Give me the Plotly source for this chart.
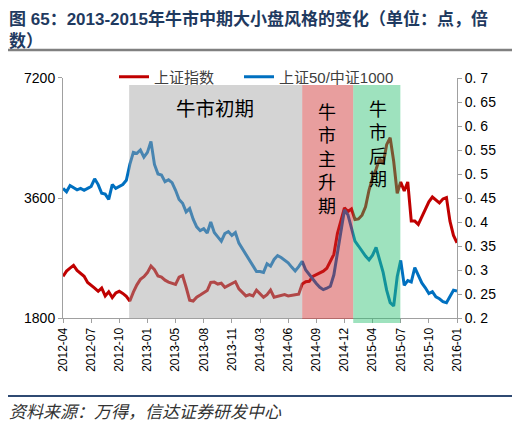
import plotly.graph_objects as go

# 上证指数（点），按交易日等距取样
sh_index = [
    2290, 2360, 2400, 2440, 2370, 2330, 2290, 2210, 2180, 2140,
    2100, 2140, 2045, 2095, 2025, 2080, 2100, 2075, 2040, 1985,
    2090, 2180, 2250, 2285, 2340, 2430, 2380, 2295, 2280, 2240,
    2215, 2200, 2185, 2280, 2300, 2150, 1995, 1985, 2030, 2055,
    2080, 2110, 2210, 2215, 2190, 2200, 2150, 2170, 2200, 2220,
    2130, 2085, 2045, 2060, 2045, 2115, 2070, 2030, 2060, 2115,
    2030, 2040, 2050, 2060, 2045, 2055, 2060, 2065, 2190, 2220,
    2225, 2290, 2315, 2340, 2360, 2400, 2490, 2600, 2930, 3170,
    3400, 3330, 3380, 3180, 3190, 3260, 3420, 3770, 4040, 4250,
    4520, 4380, 4900, 5100, 4450, 3700, 3950, 3750, 3950, 3150,
    3150, 3090, 3220, 3350, 3520, 3620, 3560, 3500, 3580, 3610,
    3150, 2900, 2780,
]

# 上证50/中证1000（倍）
ratio_50_1000 = [
    0.470, 0.463, 0.476, 0.472, 0.467, 0.470, 0.466, 0.470, 0.474, 0.490,
    0.478, 0.460, 0.458, 0.447, 0.478, 0.470, 0.474, 0.478, 0.487, 0.520,
    0.545, 0.543, 0.550, 0.535, 0.545, 0.568, 0.520, 0.500, 0.498, 0.484,
    0.488, 0.482, 0.466, 0.447, 0.439, 0.421, 0.428, 0.406, 0.390, 0.382,
    0.386, 0.377, 0.400, 0.378, 0.369, 0.360, 0.376, 0.380, 0.372, 0.378,
    0.356, 0.344, 0.332, 0.320, 0.309, 0.297, 0.297, 0.295, 0.313, 0.308,
    0.322, 0.330, 0.326, 0.320, 0.315, 0.306, 0.298, 0.307, 0.318, 0.300,
    0.290, 0.282, 0.272, 0.264, 0.259, 0.262, 0.266, 0.290, 0.335, 0.378,
    0.425, 0.415, 0.385, 0.360, 0.350, 0.339, 0.329, 0.321, 0.331, 0.347,
    0.318, 0.295, 0.258, 0.232, 0.225, 0.286, 0.320, 0.268, 0.278, 0.275,
    0.305, 0.287, 0.273, 0.263, 0.251, 0.255, 0.244, 0.240, 0.234, 0.232,
    0.246, 0.258, 0.256,
]

date_labels = ["2012-04", "2012-07", "2012-10", "2013-01", "2013-05", "2013-08",
               "2013-11", "2014-03", "2014-06", "2014-09", "2014-12", "2015-04",
               "2015-07", "2015-10", "2016-01"]
right_ticks = [0.2, 0.25, 0.3, 0.35, 0.4, 0.45, 0.5, 0.55, 0.6, 0.65, 0.7]

x = list(range(len(sh_index)))
label_step = (len(sh_index) - 1) // (len(date_labels) - 1)

CJK = "Noto Sans CJK SC"

# 页面 body 默认有 8px 边距，图整体往左上收 8px
OFF = 8
# 绘图区在页面中的像素位置，用来把像素换算成 paper 坐标
PL, PR, PT, PB = 63, 457, 78, 318
def px_x(p):
    return (p - PL) / (PR - PL)
def px_y(p):
    return (PB - p) / (PB - PT)

fig = go.Figure()
fig.add_trace(go.Scatter(x=x, y=sh_index, name="上证指数", mode="lines",
                         line=dict(color="#c00000", width=3), yaxis="y", legend="legend"))
fig.add_trace(go.Scatter(x=x, y=ratio_50_1000, name="上证50/中证1000", mode="lines",
                         line=dict(color="#0070c0", width=3), yaxis="y2", legend="legend2"))

# 阶段阴影（半透明，盖在线上）
phases = [
    (18.8, 68.0, "rgba(160,160,160,0.45)", px_y(319)),
    (68.0, 82.5, "rgba(205,40,40,0.45)", px_y(319)),
    (82.5, 95.9, "rgba(40,190,110,0.45)", px_y(323)),
]
for x0, x1, col, ybot in phases:
    fig.add_shape(type="rect", xref="x", yref="paper", x0=x0, x1=x1, y0=ybot, y1=px_y(85),
                  fillcolor=col, line=dict(width=0), layer="above")

fig.add_annotation(x=43.2, y=px_y(107), xref="x", yref="paper", text="牛市初期",
                   showarrow=False, yanchor="middle",
                   font=dict(family=CJK, size=19.5, color="#000000"))
vert_font = dict(family=CJK, size=18, color="#000000")
fig.add_annotation(x=75.1, y=px_y(158), xref="x", yref="paper", text="<br>".join("牛市主升期"),
                   showarrow=False, yanchor="middle", font=vert_font)
fig.add_annotation(x=89.4, y=px_y(143), xref="x", yref="paper", text="<br>".join("牛市后期"),
                   showarrow=False, yanchor="middle", font=vert_font)

# 标题
fig.add_annotation(x=px_x(8), y=px_y(8), xref="paper", yref="paper",
                   text="图 65：2013-2015年牛市中期大小盘风格的变化（单位：点，倍<br>数）",
                   showarrow=False, xanchor="left", yanchor="top", align="left", borderpad=0,
                   font=dict(family="Arial, " + CJK, size=17, color="#1f3a60", weight="bold"))

# 底部来源
fig.add_annotation(x=px_x(8), y=px_y(410), xref="paper", yref="paper",
                   text="资料来源：万得，信达证券研发中心",
                   showarrow=False, xanchor="left", yanchor="middle", borderpad=0,
                   font=dict(family=CJK, size=17, color="#333333", style="italic"))

# 标题下分隔线 与 底部线
fig.add_shape(type="line", xref="paper", yref="paper", x0=px_x(8), x1=px_x(515),
              y0=px_y(50), y1=px_y(50), line=dict(color="#808080", width=2.5))
fig.add_shape(type="line", xref="paper", yref="paper", x0=px_x(8), x1=px_x(515),
              y0=px_y(396), y1=px_y(396), line=dict(color="#2f4a72", width=2))

axis_common = dict(ticks="outside", ticklen=4, tickcolor="#a0a0a0", showline=True,
                   linecolor="#a0a0a0", linewidth=1, showgrid=False, zeroline=False)
legend_common = dict(orientation="h", xanchor="left", yanchor="middle", y=px_y(77),
                     bgcolor="rgba(0,0,0,0)", itemwidth=30,
                     font=dict(family="Arial, " + CJK, size=15, color="#404040"))

fig.update_layout(
    width=520 - OFF, height=426 - OFF,
    margin=dict(l=PL - OFF, r=520 - PR, t=PT - OFF, b=426 - PB, autoexpand=False),
    paper_bgcolor="white", plot_bgcolor="white",
    legend=dict(x=px_x(114), **legend_common),
    legend2=dict(x=px_x(239), **legend_common),
    showlegend=True,
    xaxis=dict(range=[0, len(sh_index) - 1], tickvals=x[::label_step], ticktext=date_labels,
               tickangle=-90, tickfont=dict(family="Arial", size=12, color="#000000"), **axis_common),
    yaxis=dict(type="log", range=[3.2553, 3.8573], tickvals=[1800, 3600, 7200],
               ticktext=["1800", "3600", "7200"],
               tickfont=dict(family="Arial", size=14, color="#000000"), **axis_common),
    yaxis2=dict(overlaying="y", side="right", range=[0.2, 0.7], tickvals=right_ticks,
                ticktext=["0. " + str(t)[2:] for t in right_ticks],
                tickfont=dict(family="Arial", size=14, color="#000000"), **axis_common),
)

fig.write_html("out.html")
